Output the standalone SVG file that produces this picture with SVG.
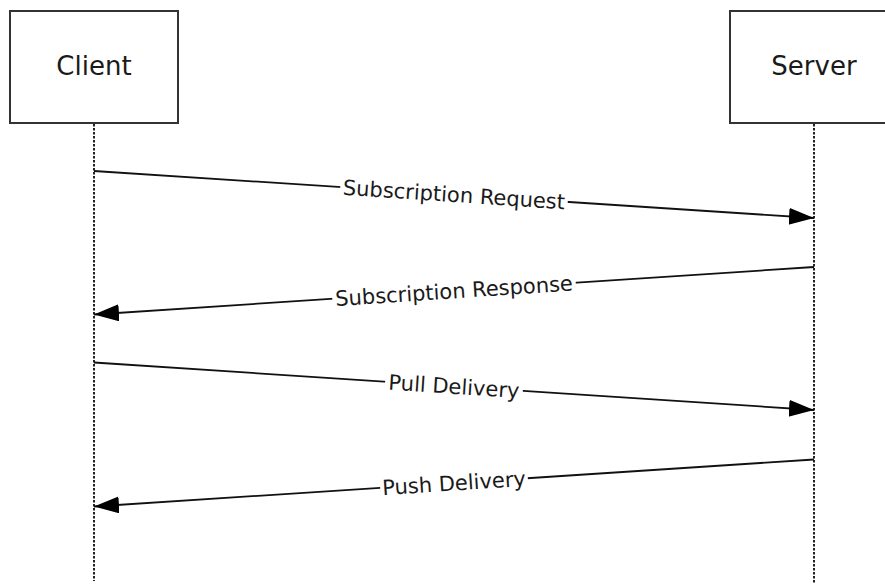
<svg xmlns="http://www.w3.org/2000/svg" width="885" height="584" viewBox="0 0 885 584">
<style>
.box{fill:#fff;stroke:#333;stroke-width:2}
.life{stroke:#222;stroke-width:2;stroke-dasharray:2.5,1.5;fill:none}
.title{font-family:"DejaVu Sans",Verdana,sans-serif;font-size:26px;fill:#1a1a1a;text-anchor:middle}
.msg{stroke:#111;stroke-width:1.8;fill:none;marker-end:url(#ah)}
.lbl{font-family:"DejaVu Sans",Verdana,sans-serif;font-size:21px;fill:#1a1a1a;text-anchor:middle}
.bg{fill:#fff}
</style>
<defs>
<marker id="ah" markerUnits="userSpaceOnUse" markerWidth="26" markerHeight="18" refX="25" refY="8.5" orient="auto">
<path d="M0,0 L25,8.5 L0,17 Z" fill="#000"/>
</marker>
</defs>
<rect width="885" height="584" fill="#fff"/>
<g id="client">
<rect class="box" x="10" y="11" width="168" height="112"/>
<text class="title" x="94" y="75">Client</text>
<line class="life" x1="94" y1="124" x2="94" y2="581"/>
</g>
<g id="server">
<rect class="box" x="730" y="11" width="200" height="112"/>
<text class="title" x="814" y="75">Server</text>
<line class="life" x1="814" y1="124" x2="814" y2="584"/>
</g>
<g id="connectors">
<line class="msg" x1="94" y1="171" x2="814" y2="218"/>
<line class="msg" x1="814" y1="267" x2="94" y2="314.5"/>
<line class="msg" x1="94" y1="362.5" x2="814" y2="410"/>
<line class="msg" x1="814" y1="459.5" x2="94" y2="506.5"/>
<g transform="translate(454,194.5) rotate(3.73)">
<rect class="bg" x="-114" y="-12" width="228" height="24"/>
<text class="lbl" x="0" y="7.5">Subscription Request</text>
</g>
<g transform="translate(454,290.8) rotate(-3.77)">
<rect class="bg" x="-122" y="-12" width="244" height="24"/>
<text class="lbl" x="0" y="7.5">Subscription Response</text>
</g>
<g transform="translate(454,386.3) rotate(3.77)">
<rect class="bg" x="-69" y="-12" width="138" height="24"/>
<text class="lbl" x="0" y="7.5">Pull Delivery</text>
</g>
<g transform="translate(454,483) rotate(-3.73)">
<rect class="bg" x="-74" y="-12" width="148" height="24"/>
<text class="lbl" x="0" y="7.5">Push Delivery</text>
</g>
</g>
</svg>
